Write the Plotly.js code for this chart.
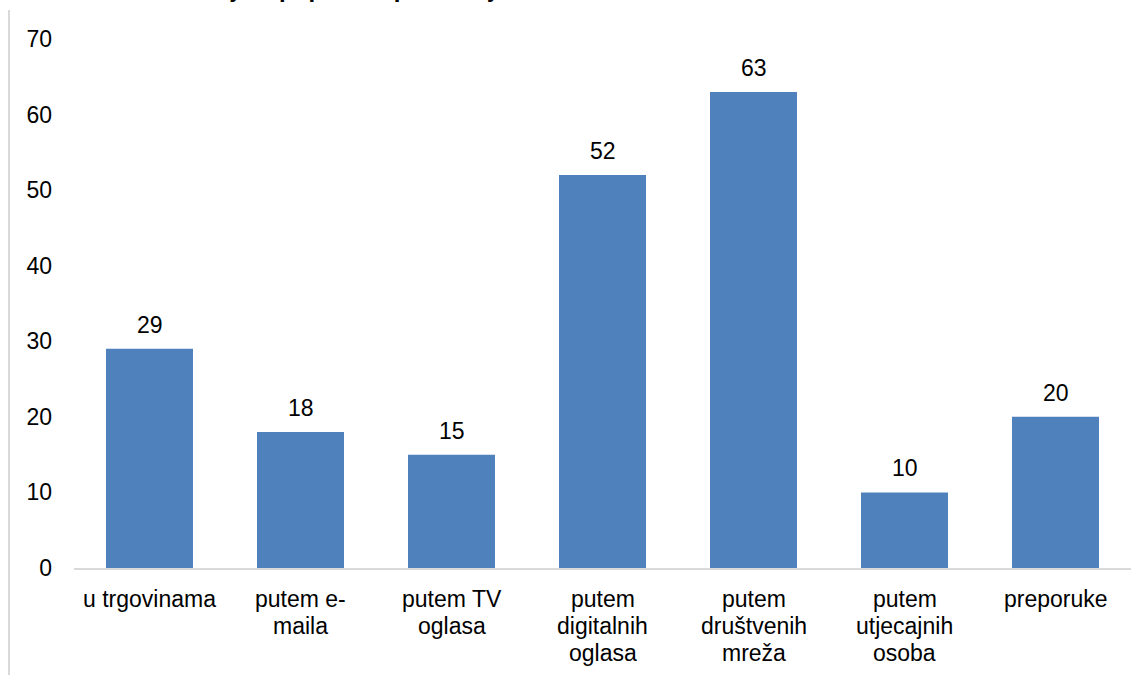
<!DOCTYPE html>
<html><head><meta charset="utf-8">
<script src="https://cdn.plot.ly/plotly-3.0.1.min.js"></script>
<style>html,body{margin:0;padding:0;background:#fff}#chart{width:1148px;height:675px}</style>
</head><body><div id="chart"></div>
<script>
const categories = ["u trgovinama","putem e-maila","putem TV oglasa","putem digitalnih oglasa","putem društvenih mreža","putem utjecajnih osoba","preporuke"];
const labelLines = [["u trgovinama"],["putem e-","maila"],["putem TV","oglasa"],["putem","digitalnih","oglasa"],["putem","društvenih","mreža"],["putem","utjecajnih","osoba"],["preporuke"]];
const values = [29, 18, 15, 52, 63, 10, 20];
const yTicks = [0,10,20,30,40,50,60,70];
const titleText = "Grafikon 5. Saznanje o popustu i promociji";

const FONT = "Liberation Sans, Arial, sans-serif";
const FS = 23;
const trace = {
  type: "bar", x: categories, y: values,
  marker: {color: "#4F81BD"}, hoverinfo: "none"
};
const annotations = [];
values.forEach((v, i) => {
  annotations.push({x: categories[i], y: v, xref: "x", yref: "y", text: String(v),
    showarrow: false, yanchor: "middle", yshift: 24,
    font: {family: FONT, size: FS, color: "#000"}});
});
labelLines.forEach((lines, i) => {
  lines.forEach((ln, j) => {
    annotations.push({x: categories[i], y: 0, xref: "x", yref: "y", text: ln,
      showarrow: false, yanchor: "middle", yshift: -31 - 27 * j,
      font: {family: FONT, size: FS, color: "#000"}});
  });
});
annotations.push({text: "<b>" + titleText + "</b>", xref: "paper", yref: "paper",
  x: -0.058, y: 1.066, xanchor: "left", yanchor: "bottom", showarrow: false,
  font: {family: FONT, size: 24, color: "#000"}});

const layout = {
  width: 1148, height: 675,
  margin: {l: 74, r: 17, t: 39, b: 107},
  paper_bgcolor: "#fff", plot_bgcolor: "#fff",
  bargap: 0.424, showlegend: false,
  font: {family: FONT, size: FS, color: "#000"},
  xaxis: {type: "category", showline: true, linecolor: "#D9D9D9", linewidth: 2,
          ticks: "", showticklabels: false, fixedrange: true},
  yaxis: {range: [0, 70], tickvals: yTicks, ticktext: yTicks.map(String), showgrid: false,
          zeroline: false, showline: false, ticks: "", ticklabelstandoff: 21,
          tickfont: {family: FONT, size: FS, color: "#000"}, fixedrange: true},
  shapes: [{type: "line", xref: "paper", yref: "paper", x0: -0.0615, x1: -0.0615,
            y0: -0.215, y1: 1.055, line: {color: "#D9D9D9", width: 2}}],
  annotations: annotations
};
Plotly.newPlot("chart", [trace], layout, {displayModeBar: false, staticPlot: true});
</script></body></html>
